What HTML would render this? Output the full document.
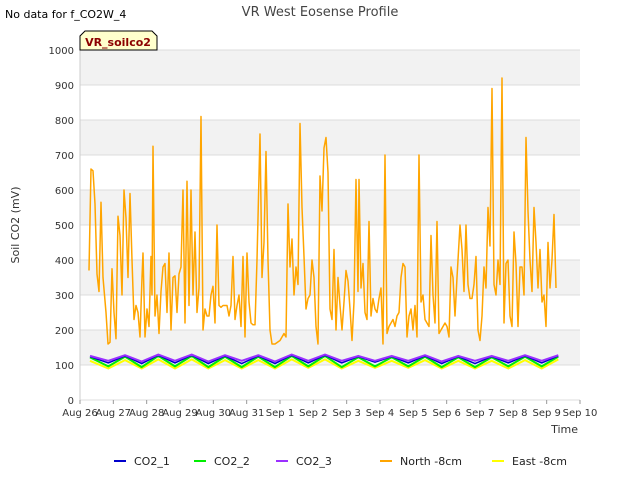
<!DOCTYPE html>
<html><head><meta charset="utf-8"><style>
body{margin:0;background:#fff;font-family:"Liberation Sans",sans-serif;}
svg text{font-family:"DejaVu Sans","Liberation Sans",sans-serif;}
</style></head><body>
<svg id="c" width="640" height="480" xmlns="http://www.w3.org/2000/svg">
<text x="5" y="18" font-size="11" fill="#000">No data for f_CO2W_4</text>
<text x="320" y="16" font-size="13" fill="#444" text-anchor="middle">VR West Eosense Profile</text>
<g id="plot"></g>
<text x="19" y="225" font-size="11" fill="#333" text-anchor="middle" transform="rotate(-90 19 225)">Soil CO2 (mV)</text>
<text x="578" y="433" font-size="11" fill="#333" text-anchor="end">Time</text>
<g>
<path d="M80,50 L80,36 L85,31 L152,31 L157,36 L157,50 Z" fill="#ffffcc" stroke="#000" stroke-width="1"/>
<text x="118" y="46" font-size="11" font-weight="bold" fill="#8b0000" text-anchor="middle">VR_soilco2</text>
</g>
<g id="legend"></g>
</svg>
<script>
const yTicks=[0,100,200,300,400,500,600,700,800,900,1000];
const xTickLabels=["Aug 26","Aug 27","Aug 28","Aug 29","Aug 30","Aug 31","Sep 1","Sep 2","Sep 3","Sep 4","Sep 5","Sep 6","Sep 7","Sep 8","Sep 9","Sep 10"];
const northX=[89,91,93,95,97,99,101,103,106,108,110,112,114,116,118,120,122,124,126,128,130,132,134,136,138,140,142,143,145,147,149,151,152,153,155,157,159,161,163,165,167,169,171,173,175,177,179,181,183,185,187,189,191,193,195,197,199,201,203,205,207,209,211,213,215,217,219,221,223,225,227,229,231,233,235,237,239,241,243,245,247,249,251,253,255,257,260,262,264,266,268,270,272,275,280,284,286,288,290,292,294,296,298,300,302,304,306,308,310,312,314,316,318,320,322,324,326,328,330,332,334,336,338,340,342,344,346,348,350,352,354,356,358,359,361,363,365,367,369,371,373,375,377,379,381,383,385,387,389,391,393,395,397,399,401,403,405,407,409,411,413,415,417,419,421,423,425,427,429,431,433,435,437,439,441,443,445,447,449,451,453,455,457,460,462,464,466,468,470,472,474,476,478,480,482,484,486,488,490,492,494,496,498,500,502,504,506,508,510,512,514,516,518,520,522,524,526,528,530,532,534,536,538,540,542,544,546,548,550,552,554,556];
const northDays=northX.map(p=>(p-80)/33.333);
const northVals=[370,660,655,560,360,310,565,350,250,160,165,375,250,175,525,470,300,600,520,350,590,400,230,270,250,180,350,420,180,260,210,410,300,725,240,300,190,310,380,390,250,420,200,350,355,250,360,380,600,220,625,270,600,300,480,250,320,810,200,260,240,240,300,325,220,500,270,265,270,270,270,240,270,410,230,270,300,210,410,180,420,280,220,215,215,400,760,350,450,710,400,200,160,160,170,190,180,560,380,460,300,380,330,790,550,410,260,290,300,400,350,210,160,640,540,720,750,650,260,230,430,200,350,270,200,280,370,340,260,170,280,630,310,630,320,390,250,230,510,240,290,260,250,290,320,160,700,190,210,220,230,210,240,250,350,390,380,180,240,260,200,270,180,700,280,300,230,220,210,470,300,220,510,190,200,210,220,210,180,380,350,240,350,500,430,310,500,330,290,290,330,410,200,170,240,380,320,550,440,890,330,300,400,330,920,220,390,400,240,210,480,390,210,380,380,300,750,540,400,310,550,450,320,430,280,300,210,450,320,400,530,320];
const lowDays=[0.3,0.85,1.35,1.85,2.35,2.85,3.35,3.85,4.35,4.85,5.35,5.85,6.35,6.85,7.35,7.85,8.35,8.85,9.35,9.85,10.35,10.85,11.35,11.85,12.35,12.85,13.35,13.85,14.35];
const co2_1=[124,106,126,104,128,106,128,104,126,104,126,104,128,106,128,106,124,108,124,106,126,104,124,104,124,106,126,106,126];
const co2_2=[122,96,124,94,126,96,126,94,124,94,124,94,126,96,126,94,122,96,122,96,124,94,122,94,122,96,124,96,124];
const co2_3=[126,112,128,110,130,112,130,110,128,112,128,110,130,112,130,112,126,112,126,112,128,110,126,112,126,112,128,112,128];
const east=[112,90,114,90,116,90,116,90,114,90,114,90,116,92,116,90,112,92,112,92,114,90,112,90,112,90,114,90,116];
const legNames=["CO2_1","CO2_2","CO2_3","North -8cm","East -8cm"];
const legColors=["#0000cc","#00ee00","#9b30ff","#ffa500","#ffff00"];

const NS="http://www.w3.org/2000/svg";
const L=80,R=580,T=50,B=400;
const xs=d=>L+d*(R-L)/15;
const ys=v=>B-v*(B-T)/1000;
const plot=document.getElementById('plot');
function mk(tag,attrs,parent){const e=document.createElementNS(NS,tag);for(const k in attrs)e.setAttribute(k,attrs[k]);parent.appendChild(e);return e;}
for(let i=0;i<yTicks.length-1;i++){
  if(i%2===1){const r=mk('rect',{x:L,y:ys(yTicks[i+1]),width:R-L,height:ys(yTicks[i])-ys(yTicks[i+1]),fill:'#f2f2f2'},plot);
  
  }
}
yTicks.forEach(v=>{
  const g=mk('line',{x1:L,x2:R,y1:ys(v),y2:ys(v),stroke:'#dcdcdc','stroke-width':1},plot);
  
  
  const t=mk('text',{x:L-6,y:ys(v)+4,'font-size':10,fill:'#333','text-anchor':'end'},plot);
  t.textContent=v;
  
  
});
xTickLabels.forEach((s,i)=>{
  const tk=mk('line',{x1:xs(i),x2:xs(i),y1:B,y2:B+4,stroke:'#999'},plot);
  
  
  const t=mk('text',{x:xs(i),y:B+16,'font-size':10,fill:'#333','text-anchor':'middle'},plot);
  t.textContent=s;
  
  
});
mk('line',{x1:L,x2:L,y1:T,y2:B,stroke:'#ccc'},plot);
function line(days,vals,color,w,name){
  const p=mk('polyline',{points:days.map((d,i)=>xs(d).toFixed(1)+','+ys(vals[i]).toFixed(1)).join(' '),fill:'none',stroke:color,'stroke-width':w,'stroke-linejoin':'round'},plot);
  
  
}
line(lowDays,east,'#ffff00',2,'series-east-8cm');
line(lowDays,co2_2,'#00ee00',2,'series-co2-2');
line(lowDays,co2_1,'#0000cc',1.5,'series-co2-1');
line(lowDays,co2_3,'#9b30ff',2,'series-co2-3');
line(northDays,northVals,'#ffa500',1.5,'series-north-8cm');
const leg=document.getElementById('legend');
const legX=[114,194,276,380,492];
legNames.forEach((n,i)=>{
  const g=mk('g',{},leg);
  
  
  mk('line',{x1:legX[i],x2:legX[i]+12,y1:461,y2:461,stroke:legColors[i],'stroke-width':2},g);
  const t=mk('text',{x:legX[i]+20,y:465,'font-size':11,fill:'#222'},g);
  t.textContent=n;
});
</script>
</body></html>
